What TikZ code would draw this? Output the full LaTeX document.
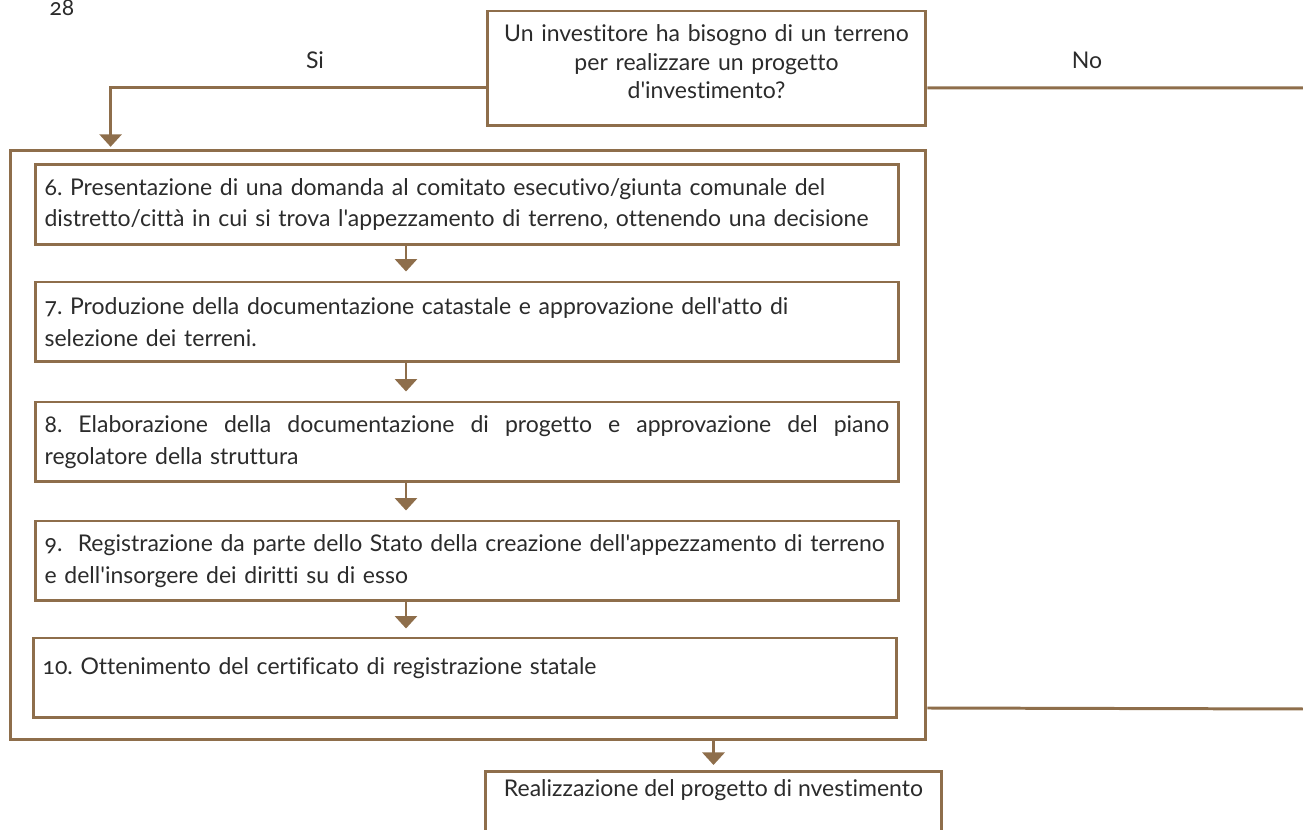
\documentclass[tikz,border=0pt]{standalone}
\usepackage{fontspec}
\setmainfont{Lato}[Numbers=OldStyle,Ligatures={TeXOff,NoCommon}]
\usetikzlibrary{arrows.meta,calc}
\definecolor{brn}{HTML}{8E6E4B}
\definecolor{txt}{HTML}{2B2B2B}
\frenchspacing
\newcommand{\fullline}[1]{\hbox to 16.9cm{\spaceskip=0pt\xspaceskip=0pt #1}}
\begin{document}
\begin{tikzpicture}[x=0.02cm,y=-0.02cm,
  font=\fontsize{13.1}{18}\selectfont, text=txt,
  box/.style={draw=brn, line width=1.7pt, rectangle, inner sep=0pt},
  stepbox/.style={box, minimum width=17.28cm, minimum height=1.6cm,
    text width=16.9cm, align=left},
  arr/.style={draw=brn, line width=1.7pt, -{Triangle[width=0.44cm,length=0.25cm]}},
  conn/.style={draw=brn, line width=1.7pt},
  lbl/.style={inner sep=0pt}]
\useasboundingbox (0,0) rectangle (1303,830);

% page number
\node[lbl] (pg) at (62,8) {28};

% question box
\node[box, minimum width=8.78cm, minimum height=2.3cm, text width=8.6cm,
  align=center, text height=9.4pt, text depth=40pt,
  font=\fontsize{13.1}{16.2}\selectfont] (top) at (706.5,68.5)
  {Un investitore ha bisogno di un terreno\\ per realizzare un progetto\\ d'investimento?};

\node[lbl] (si) at (315,60) {Si};
\node[lbl] (no) at (1087,60) {No};

% outer frame
\node[box, minimum width=18.32cm, minimum height=11.8cm] (outer) at (468,445) {};

% steps
\node[stepbox] (b6) at (467,204.5)
  {6. Presentazione di una domanda al comitato esecutivo/giunta comunale del\\
   distretto/città in cui si trova l'appezzamento di terreno, ottenendo una decisione};
\node[stepbox] (b7) at (467,322)
  {7. Produzione della documentazione catastale e approvazione dell'atto di\\
   selezione dei terreni.};
\node[stepbox] (b8) at (467,442)
  {\fullline{8. Elaborazione della documentazione di progetto e approvazione del piano}\\
   regolatore della struttura};
\node[stepbox] (b9) at (467,561)
  {9.\ \ Registrazione da parte dello Stato della creazione dell'appezzamento di terreno\\
   e dell'insorgere dei diritti su di esso};
\node[stepbox, text depth=13.4pt] (b10) at (465,678)
  {10. Ottenimento del certificato di registrazione statale};

% result box
\node[box, anchor=north, minimum width=9.14cm, inner ysep=0.16cm, text depth=2cm]
  (bot) at (713.5,770) {Realizzazione del progetto di nvestimento};

% connectors
\coordinate (ax) at (406,0);
\coordinate (noA) at (1303,88);
\coordinate (noB) at (1303,709);

\draw[arr, shorten >=1pt] ($(top.west)+(0,19.5)$) -| ($(outer.north west)+(102,0)$);
\draw[conn] ($(top.east)+(0,19.5)$) -- (noA);
\draw[conn] ($(outer.east)+(0,263)$) -- (noB);

\draw[arr, shorten >=0.18cm] (b6.south -| ax) -- (b7.north -| ax);
\draw[arr, shorten >=0.18cm] (b7.south -| ax) -- (b8.north -| ax);
\draw[arr, shorten >=0.18cm] (b8.south -| ax) -- (b9.north -| ax);
\draw[arr, shorten >=0.16cm] (b9.south -| ax) -- (b10.north -| ax);
\draw[arr, shorten >=0.1cm] (outer.south -| bot.north) -- (bot.north);
\end{tikzpicture}
\end{document}
